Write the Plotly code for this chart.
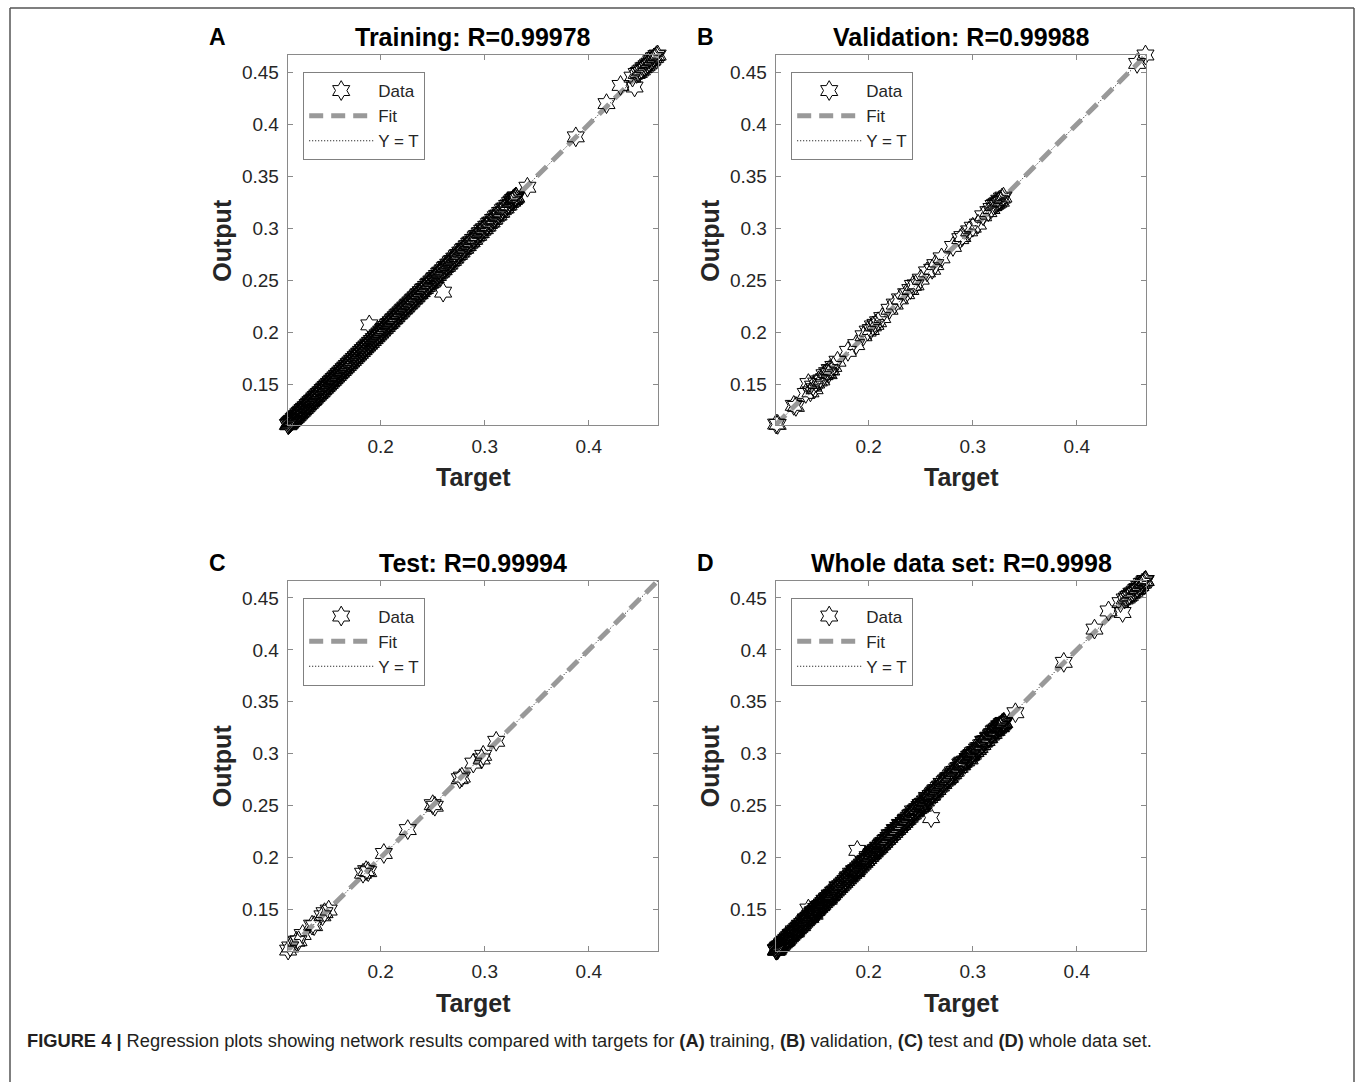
import plotly.graph_objects as go

W, H = 1355, 1082

# ---------------- data ----------------
train_target = [
    0.1108, 0.1113, 0.1119, 0.1122, 0.1128, 0.1131, 0.1137, 0.1142, 0.1146, 0.1153,
    0.1159, 0.1164, 0.1171, 0.1176, 0.1184, 0.1189, 0.1195, 0.1203, 0.1208, 0.1216,
    0.1222, 0.1229, 0.1235, 0.1243, 0.1249, 0.1256, 0.1262, 0.1270, 0.1277, 0.1283,
    0.1291, 0.1298, 0.1304, 0.1312, 0.1319, 0.1325, 0.1333, 0.1340, 0.1346, 0.1355,
    0.1361, 0.1368, 0.1376, 0.1383, 0.1390, 0.1398, 0.1405, 0.1412, 0.1420, 0.1427,
    0.1435, 0.1442, 0.1449, 0.1457, 0.1465, 0.1472, 0.1480, 0.1487, 0.1495, 0.1503,
    0.1510, 0.1518, 0.1526, 0.1533, 0.1541, 0.1549, 0.1556, 0.1564, 0.1572, 0.1580,
    0.1588, 0.1596, 0.1603, 0.1611, 0.1619, 0.1627, 0.1635, 0.1643, 0.1651, 0.1659,
    0.1667, 0.1675, 0.1684, 0.1692, 0.1700, 0.1708, 0.1717, 0.1725, 0.1733, 0.1742,
    0.1750, 0.1759, 0.1767, 0.1776, 0.1784, 0.1793, 0.1801, 0.1810, 0.1819, 0.1827,
    0.1836, 0.1845, 0.1853, 0.1862, 0.1871, 0.1880, 0.1889, 0.1897, 0.1906, 0.1915,
    0.1924, 0.1933, 0.1942, 0.1951, 0.1960, 0.1969, 0.1978, 0.1987, 0.1996, 0.2005,
    0.2014, 0.2023, 0.2031, 0.2040, 0.2049, 0.2058, 0.2068, 0.2077, 0.2086, 0.2095,
    0.2104, 0.2114, 0.2123, 0.2132, 0.2142, 0.2151, 0.2160, 0.2170, 0.2179, 0.2189,
    0.2198, 0.2208, 0.2217, 0.2227, 0.2236, 0.2246, 0.2256, 0.2265, 0.2275, 0.2285,
    0.2295, 0.2305, 0.2314, 0.2324, 0.2334, 0.2344, 0.2354, 0.2364, 0.2374, 0.2384,
    0.2394, 0.2404, 0.2414, 0.2425, 0.2435, 0.2445, 0.2456, 0.2466, 0.2476, 0.2487,
    0.2497, 0.2508, 0.2518, 0.2529, 0.2540, 0.2550, 0.2561, 0.2572, 0.2583, 0.2594,
    0.2605, 0.2616, 0.2627, 0.2638, 0.2649, 0.2661, 0.2672, 0.2684, 0.2695, 0.2707,
    0.2718, 0.2730, 0.2742, 0.2753, 0.2765, 0.2777, 0.2789, 0.2801, 0.2813, 0.2825,
    0.2837, 0.2850, 0.2862, 0.2874, 0.2887, 0.2899, 0.2912, 0.2924, 0.2937, 0.2950,
    0.2962, 0.2975, 0.2988, 0.3001, 0.3014, 0.3027, 0.3040, 0.3053, 0.3066, 0.3080,
    0.3093, 0.3106, 0.3120, 0.3133, 0.3147, 0.3160, 0.3174, 0.3188, 0.3201, 0.3215,
    0.3229, 0.3243, 0.3257, 0.3265, 0.3272, 0.3280, 0.3286, 0.3292, 0.3298, 0.3303,
    0.1890, 0.2600, 0.3410, 0.3875, 0.4170, 0.4305, 0.4440, 0.4420, 0.4460, 0.4480,
    0.4495, 0.4510, 0.4525, 0.4540, 0.4555, 0.4570, 0.4585, 0.4600, 0.4612, 0.4625,
    0.4638, 0.4650, 0.4662,
]
train_output = [
    0.1112, 0.1108, 0.1124, 0.1117, 0.1133, 0.1126, 0.1141, 0.1139, 0.1151, 0.1148,
    0.1155, 0.1170, 0.1167, 0.1182, 0.1179, 0.1194, 0.1191, 0.1199, 0.1214, 0.1211,
    0.1228, 0.1224, 0.1240, 0.1238, 0.1255, 0.1251, 0.1267, 0.1265, 0.1281, 0.1279,
    0.1287, 0.1303, 0.1300, 0.1317, 0.1314, 0.1331, 0.1328, 0.1345, 0.1342, 0.1351,
    0.1367, 0.1364, 0.1381, 0.1379, 0.1396, 0.1393, 0.1410, 0.1408, 0.1425, 0.1422,
    0.1431, 0.1448, 0.1445, 0.1462, 0.1460, 0.1477, 0.1475, 0.1492, 0.1490, 0.1507,
    0.1506, 0.1523, 0.1521, 0.1538, 0.1536, 0.1554, 0.1551, 0.1569, 0.1567, 0.1585,
    0.1583, 0.1601, 0.1599, 0.1616, 0.1614, 0.1632, 0.1630, 0.1648, 0.1646, 0.1664,
    0.1662, 0.1680, 0.1679, 0.1697, 0.1695, 0.1713, 0.1712, 0.1730, 0.1728, 0.1747,
    0.1745, 0.1764, 0.1762, 0.1781, 0.1779, 0.1798, 0.1796, 0.1815, 0.1814, 0.1832,
    0.1831, 0.1850, 0.1849, 0.1867, 0.1866, 0.1885, 0.1884, 0.1902, 0.1901, 0.1920,
    0.1919, 0.1938, 0.1937, 0.1956, 0.1955, 0.1974, 0.1973, 0.1992, 0.1991, 0.2010,
    0.2011, 0.2027, 0.2036, 0.2037, 0.2054, 0.2055, 0.2072, 0.2081, 0.2083, 0.2100,
    0.2099, 0.2118, 0.2128, 0.2129, 0.2147, 0.2148, 0.2166, 0.2175, 0.2176, 0.2194,
    0.2195, 0.2212, 0.2222, 0.2224, 0.2241, 0.2243, 0.2260, 0.2270, 0.2272, 0.2290,
    0.2291, 0.2309, 0.2319, 0.2320, 0.2339, 0.2340, 0.2358, 0.2369, 0.2370, 0.2389,
    0.2390, 0.2409, 0.2418, 0.2421, 0.2440, 0.2441, 0.2460, 0.2471, 0.2472, 0.2492,
    0.2493, 0.2512, 0.2523, 0.2525, 0.2545, 0.2546, 0.2566, 0.2577, 0.2579, 0.2598,
    0.2601, 0.2621, 0.2632, 0.2634, 0.2654, 0.2656, 0.2677, 0.2688, 0.2691, 0.2712,
    0.2714, 0.2735, 0.2747, 0.2749, 0.2770, 0.2772, 0.2794, 0.2806, 0.2808, 0.2830,
    0.2833, 0.2855, 0.2867, 0.2870, 0.2892, 0.2894, 0.2917, 0.2929, 0.2932, 0.2955,
    0.2958, 0.2980, 0.2993, 0.2996, 0.3019, 0.3022, 0.3045, 0.3058, 0.3061, 0.3085,
    0.3089, 0.3111, 0.3125, 0.3128, 0.3152, 0.3155, 0.3179, 0.3193, 0.3196, 0.3220,
    0.3225, 0.3247, 0.3262, 0.3261, 0.3277, 0.3276, 0.3291, 0.3288, 0.3302, 0.3299,
    0.2070, 0.2385, 0.3395, 0.3880, 0.4200, 0.4375, 0.4360, 0.4455, 0.4490, 0.4500,
    0.4515, 0.4525, 0.4545, 0.4550, 0.4565, 0.4580, 0.4590, 0.4612, 0.4620, 0.4640,
    0.4645, 0.4662, 0.4668,
]

val_target = [
    0.1110, 0.1125, 0.1280, 0.1300, 0.1395, 0.1420, 0.1440, 0.1465, 0.1480, 0.1495,
    0.1520, 0.1545, 0.1575, 0.1600, 0.1615, 0.1625, 0.1640, 0.1660, 0.1700, 0.1800,
    0.1880, 0.1950, 0.1990, 0.2020, 0.2040, 0.2065, 0.2090, 0.2130, 0.2200, 0.2250,
    0.2300, 0.2360, 0.2400, 0.2425, 0.2450, 0.2500, 0.2560, 0.2610, 0.2640, 0.2700,
    0.2810, 0.2880, 0.2900, 0.2965, 0.3000, 0.3050, 0.3100, 0.3150, 0.3180, 0.3200,
    0.3215, 0.3230, 0.3245, 0.3255, 0.3270, 0.3280, 0.3295, 0.4580, 0.4660,
]
val_output = [
    0.1115, 0.1112, 0.1295, 0.1285, 0.1410, 0.1505, 0.1425, 0.1480, 0.1455, 0.1510,
    0.1530, 0.1540, 0.1590, 0.1610, 0.1600, 0.1640, 0.1635, 0.1670, 0.1720, 0.1815,
    0.1880, 0.1965, 0.2010, 0.2025, 0.2060, 0.2075, 0.2100, 0.2140, 0.2220, 0.2270,
    0.2320, 0.2370, 0.2410, 0.2450, 0.2455, 0.2510, 0.2580, 0.2605, 0.2650, 0.2715,
    0.2825, 0.2900, 0.2920, 0.2975, 0.3010, 0.3040, 0.3120, 0.3160, 0.3190, 0.3220,
    0.3230, 0.3240, 0.3250, 0.3270, 0.3260, 0.3290, 0.3300, 0.4587, 0.4668,
]

test_target = [
    0.1110, 0.1130, 0.1190, 0.1210, 0.1250, 0.1340, 0.1360, 0.1440, 0.1460, 0.1500,
    0.1830, 0.1860, 0.1880, 0.2030, 0.2260, 0.2500, 0.2520, 0.2760, 0.2780, 0.2890,
    0.2970, 0.2985, 0.3110,
]
test_output = [
    0.1110, 0.1140, 0.1195, 0.1200, 0.1260, 0.1350, 0.1345, 0.1440, 0.1470, 0.1495,
    0.1850, 0.1875, 0.1865, 0.2040, 0.2270, 0.2510, 0.2495, 0.2760, 0.2775, 0.2910,
    0.2950, 0.2985, 0.3120,
]

all_target = train_target + val_target + test_target
all_output = train_output + val_output + test_output

panel_letters = ["A", "B", "C", "D"]
panel_titles = ["Training: R=0.99978", "Validation: R=0.99988",
                "Test: R=0.99994", "Whole data set: R=0.9998"]
panel_targets = [train_target, val_target, test_target, all_target]
panel_outputs = [train_output, val_output, test_output, all_output]
fit_slope = [1.0003, 0.9996, 1.0002, 1.0001]
fit_intercept = [-0.0001, 0.0002, 0.0000, 0.0000]

axis_limits = [0.1106, 0.4668]
x_tickvals = [0.2, 0.3, 0.4]
x_ticktext = ["0.2", "0.3", "0.4"]
y_tickvals = [0.15, 0.2, 0.25, 0.3, 0.35, 0.4, 0.45]
y_ticktext = ["0.15", "0.2", "0.25", "0.3", "0.35", "0.4", "0.45"]

caption = ("<b>FIGURE 4 |</b> Regression plots showing network results compared with targets for "
           "<b>(A)</b> training, <b>(B)</b> validation, <b>(C)</b> test and <b>(D)</b> whole data set.")

# ---------------- layout geometry (pixels) ----------------
boxes = [  # left, top, right, bottom
    (287.7, 55.0, 658.3, 425.0),
    (775.7, 55.0, 1146.3, 425.0),
    (287.7, 580.5, 658.3, 950.5),
    (775.7, 580.5, 1146.3, 950.5),
]

FONT = "Liberation Sans, Arial, sans-serif"
AXCOL = "#8a8a8a"
TXT = "#262626"

def px(x):
    return x / W

def py(y):
    return 1 - y / H

fig = go.Figure()
annotations = []
layout_axes = {}

for i in range(4):
    sfx = "" if i == 0 else str(i + 1)
    xa, ya = "x" + sfx, "y" + sfx
    leg = "legend" + sfx
    lo, hi = axis_limits
    m, b = fit_slope[i], fit_intercept[i]

    # Y = T line
    fig.add_trace(go.Scatter(
        x=[lo, hi], y=[lo, hi], mode="lines", name="Y = T",
        line=dict(color="#000000", width=1, dash="1px,2px"),
        xaxis=xa, yaxis=ya, legend=leg, legendrank=3, cliponaxis=True,
        hoverinfo="skip"))
    # Fit line
    fig.add_trace(go.Scatter(
        x=[lo, hi], y=[m * lo + b, m * hi + b], mode="lines", name="Fit",
        line=dict(color="#999999", width=5, dash="14px,8px"),
        xaxis=xa, yaxis=ya, legend=leg, legendrank=2, cliponaxis=True,
        hoverinfo="skip"))
    # Data
    fig.add_trace(go.Scatter(
        x=panel_targets[i], y=panel_outputs[i], mode="markers", name="Data",
        marker=dict(symbol="hexagram-open", size=15, color="#000000",
                    line=dict(color="#000000", width=1)),
        xaxis=xa, yaxis=ya, legend=leg, legendrank=1, cliponaxis=False))

    l, t, r, bt = boxes[i]
    axcommon = dict(
        range=axis_limits, showgrid=False, zeroline=False,
        showline=True, linecolor=AXCOL, linewidth=1, mirror="ticks",
        ticks="inside", ticklen=5, tickwidth=1, tickcolor=AXCOL,
        tickfont=dict(family=FONT, size=19, color=TXT),
    )
    layout_axes["xaxis" + sfx] = dict(
        axcommon, domain=[px(l), px(r)], anchor=ya,
        tickvals=x_tickvals, ticktext=x_ticktext, ticklabelstandoff=4)
    layout_axes["yaxis" + sfx] = dict(
        axcommon, domain=[py(bt), py(t)], anchor=xa,
        tickvals=y_tickvals, ticktext=y_ticktext, ticklabelstandoff=4)

    layout_axes[leg] = dict(
        x=px(l + 15.5), y=py(t + 17), xanchor="left", yanchor="top",
        bgcolor="#ffffff", bordercolor="#808080", borderwidth=1,
        font=dict(family=FONT, size=17, color=TXT), itemwidth=64,
        tracegroupgap=0, itemclick=False)

    cx = (l + r) / 2
    annotations.append(dict(
        text="<b>" + panel_titles[i] + "</b>", x=px(cx), y=py(t - 18),
        xref="paper", yref="paper", xanchor="center", yanchor="middle",
        showarrow=False, font=dict(family=FONT, size=25, color="#000000")))
    annotations.append(dict(
        text="<b>" + panel_letters[i] + "</b>", x=px(l - 70), y=py(t - 18),
        xref="paper", yref="paper", xanchor="center", yanchor="middle",
        showarrow=False, font=dict(family=FONT, size=23, color="#000000")))
    annotations.append(dict(
        text="<b>Target</b>", x=px(cx), y=py(bt + 52),
        xref="paper", yref="paper", xanchor="center", yanchor="middle",
        showarrow=False, font=dict(family=FONT, size=25, color=TXT)))
    annotations.append(dict(
        text="<b>Output</b>", x=px(l - 66), y=py((t + bt) / 2),
        xref="paper", yref="paper", xanchor="center", yanchor="middle",
        textangle=-90,
        showarrow=False, font=dict(family=FONT, size=25, color=TXT)))

annotations.append(dict(
    text=caption, x=px(25), y=py(1040), xref="paper", yref="paper",
    xanchor="left", yanchor="middle", showarrow=False,
    font=dict(family="Liberation Sans Narrow, Liberation Sans, Arial, sans-serif",
              size=18.3, color="#231f20")))

border = dict(type="line", xref="paper", yref="paper",
              line=dict(color="#555555", width=1.5))
shapes = [
    dict(border, x0=px(10), y0=py(8), x1=px(1354), y1=py(8)),
    dict(border, x0=px(10), y0=py(8), x1=px(10), y1=0),
    dict(border, x0=px(1354), y0=py(8), x1=px(1354), y1=0),
]

fig.update_layout(
    width=W, height=H, margin=dict(l=0, r=0, t=0, b=0),
    paper_bgcolor="#ffffff", plot_bgcolor="#ffffff",
    annotations=annotations, shapes=shapes, showlegend=True,
    font=dict(family=FONT, color=TXT),
    **layout_axes,
)

fig.write_html("out.html", config={"displayModeBar": False},
               post_script="document.body.style.margin='0';document.body.style.overflow='hidden';")
